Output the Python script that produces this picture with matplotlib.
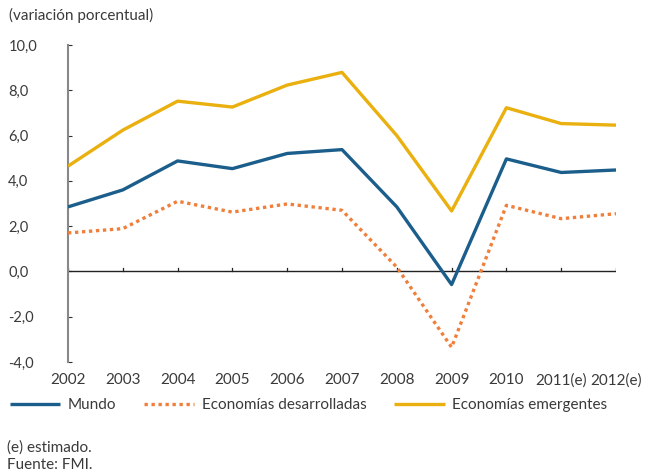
import numpy as np
import matplotlib.pyplot as plt

plt.rcParams['font.family'] = ['Lato', 'DejaVu Sans']

years = ['2002', '2003', '2004', '2005', '2006', '2007', '2008', '2009', '2010', '2011(e)', '2012(e)']
mundo = [2.85, 3.6, 4.88, 4.54, 5.21, 5.38, 2.85, -0.58, 4.97, 4.37, 4.48]
desarrolladas = [1.7, 1.89, 3.1, 2.62, 2.98, 2.7, 0.19, -3.35, 2.92, 2.33, 2.55]
emergentes = [4.65, 6.24, 7.52, 7.26, 8.23, 8.79, 6.0, 2.67, 7.23, 6.53, 6.46]
yticks = [-4, -2, 0, 2, 4, 6, 8, 10]

text_color = '#3a3a3a'
c_mundo = '#1b5e8b'
c_des = '#ef7f3a'
c_emer = '#e9b00f'

fig = plt.figure(figsize=(6.47, 4.74), dpi=100)
ax = fig.add_axes([68 / 647, 1 - 362 / 474, (616 - 68) / 647, (362 - 45) / 474])

x = np.arange(len(years))
l1, = ax.plot(x, mundo, color=c_mundo, lw=2.4, solid_capstyle='butt', zorder=3)
l2, = ax.plot(x, desarrolladas, color=c_des, lw=2.4, linestyle=(0, (1, 1.1)), zorder=3)
l3, = ax.plot(x, emergentes, color=c_emer, lw=2.4, solid_capstyle='butt', zorder=3)

# zero line with small upward ticks
ax.axhline(0, color='#222222', lw=1.0, zorder=2)
for xi in x:
    ax.plot([xi, xi], [0, 0.17], color='#222222', lw=0.9, zorder=2)

ax.set_xlim(0, len(years) - 1)
ax.set_ylim(-4, 10)
ax.set_yticks(yticks)
ax.set_yticklabels([f'{v:.1f}'.replace('.', ',') for v in yticks])
ax.set_xticks(x)
ax.set_xticklabels(years)

for s in ['top', 'right', 'bottom']:
    ax.spines[s].set_visible(False)
ax.spines['left'].set_color('#888888')
ax.spines['left'].set_linewidth(1.5)

ax.tick_params(axis='y', direction='in', length=3, width=0.8, color='#333333',
               labelsize=10.5, labelcolor=text_color, pad=43)
ax.tick_params(axis='x', length=0, labelsize=11, labelcolor=text_color, pad=8)
for lab in ax.get_yticklabels():
    lab.set_horizontalalignment('left')

fig.text(9 / 647, 1 - 15 / 474, '(variación porcentual)', fontsize=11, color=text_color, va='center')
fig.text(7 / 647, 1 - 448 / 474, '(e) estimado.', fontsize=11, color=text_color, va='center')
fig.text(7 / 647, 1 - 465 / 474, 'Fuente: FMI.', fontsize=11, color=text_color, va='center')

fig.legend([l1, l2, l3], ['Mundo', 'Economías desarrolladas', 'Economías emergentes'],
           loc='center left', bbox_to_anchor=(-0.006, 1 - 405 / 474), ncol=3, frameon=False,
           fontsize=11, handlelength=3.3, handletextpad=0.5, columnspacing=1.8,
           labelcolor=text_color)

fig.savefig('out.png', dpi=100)
